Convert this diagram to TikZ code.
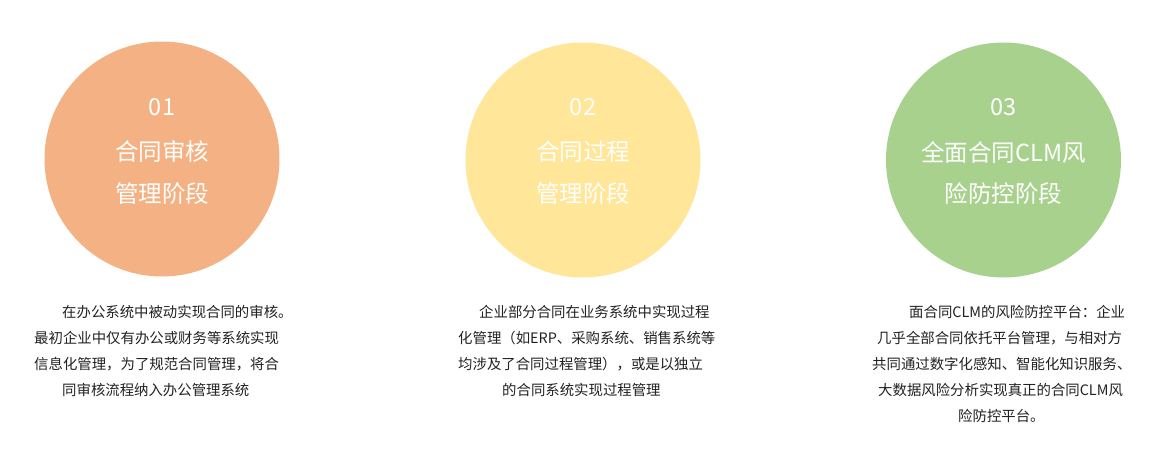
\documentclass[tikz,border=0pt]{standalone}
\usepackage{fontspec}
\setmainfont{Noto Sans CJK SC}
\definecolor{corange}{HTML}{F4B183}
\definecolor{cyellow}{HTML}{FFE699}
\definecolor{cgreen}{HTML}{A9D18E}
\definecolor{bodytext}{HTML}{222222}
\begin{document}
\begin{tikzpicture}[x=1pt,y=-1pt,
  stage/.style={circle,draw=none,minimum size=235pt,inner sep=0pt},
  ctext/.style={text=white,inner sep=0pt,font=\fontsize{23.5}{28}\selectfont},
  line/.style={anchor=west,inner sep=0pt,text=bodytext,font=\fontsize{14.4}{17}\selectfont}]
\useasboundingbox (0,0) rectangle (1176,455);
\fill[white] (0,0) rectangle (1176,455);
% circles
\node[stage,fill=corange] (c1) at (162,159) {};
\node[stage,fill=cyellow] (c2) at (583,160) {};
\node[stage,fill=cgreen] (c3) at (1003.5,160) {};
% circle texts
\node[ctext] (n1) at (162,107) {01};
\node[ctext] (a1) at (162,152) {合同审核};
\node[ctext] (b1) at (162,194) {管理阶段};
\node[ctext] (n2) at (583,107) {02};
\node[ctext] (a2) at (583,152) {合同过程};
\node[ctext] (b2) at (583,194) {管理阶段};
\node[ctext] (n3) at (1003.5,107) {03};
\node[ctext] (a3) at (1003.5,152) {全面合同CLM风};
\node[ctext] (b3) at (1003.5,194) {险防控阶段};
% block 1
\node[line] (p1a) at (62,312) {在办公系统中被动实现合同的审核。};
\node[line] (p1b) at (34,338) {最初企业中仅有办公或财务等系统实现};
\node[line] (p1c) at (34,364) {信息化管理，为了规范合同管理，将合};
\node[line] (p1d) at (62,390) {同审核流程纳入办公管理系统};
% block 2
\node[line] (p2a) at (479,312) {企业部分合同在业务系统中实现过程};
\node[line] (p2b) at (458,338) {化管理（如ERP、采购系统、销售系统等};
\node[line] (p2c) at (458,364) {均涉及了合同过程管理），或是以独立};
\node[line] (p2d) at (502,390) {的合同系统实现过程管理};
% block 3
\node[line] (p3a) at (909,312) {面合同CLM的风险防控平台：企业};
\node[line] (p3b) at (877,338) {几乎全部合同依托平台管理，与相对方};
\node[line] (p3c) at (872,364) {共同通过数字化感知、智能化知识服务、};
\node[line] (p3d) at (878,390) {大数据风险分析实现真正的合同CLM风};
\node[line] (p3e) at (958,416) {险防控平台。};
\end{tikzpicture}
\end{document}
